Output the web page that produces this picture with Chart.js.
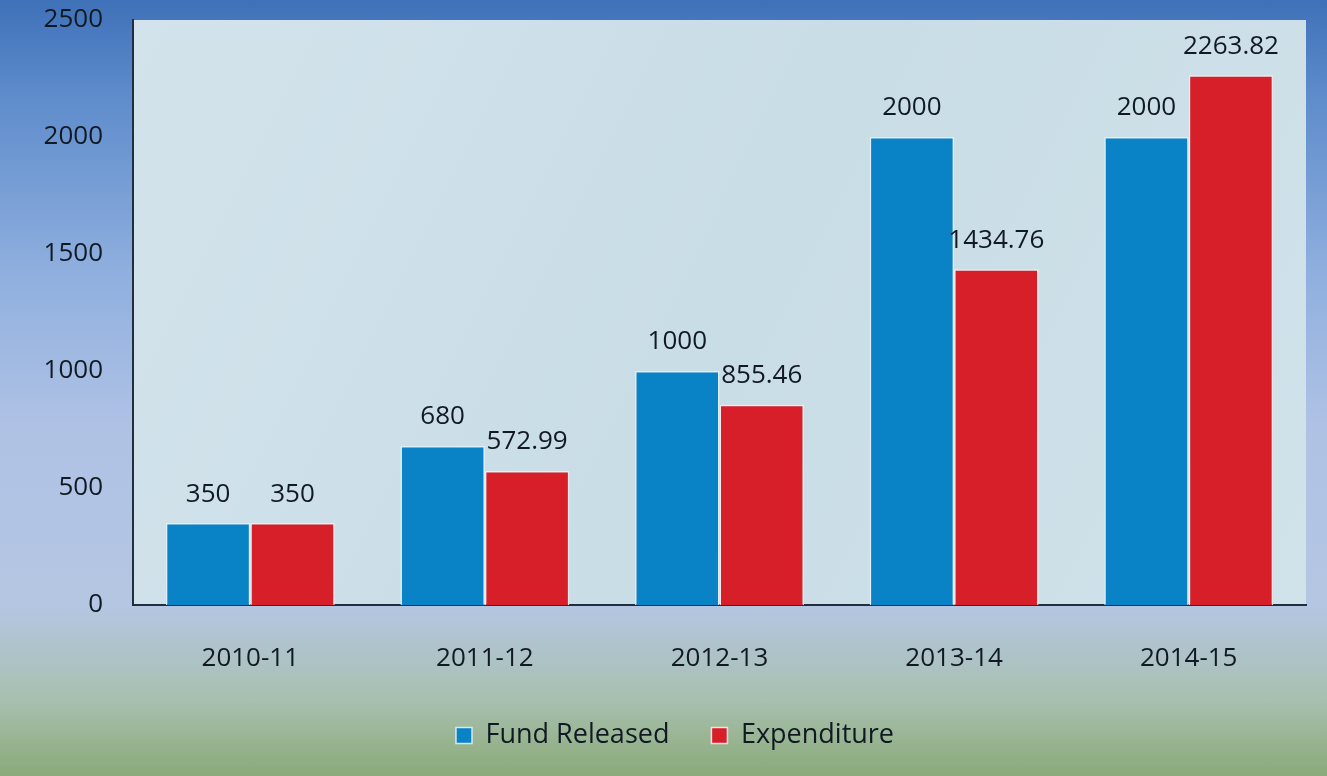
<!DOCTYPE html>
<html>
<head>
<meta charset="utf-8">
<script src="https://cdn.jsdelivr.net/npm/chart.js@4/dist/chart.umd.min.js"></script>
<style>
  html, body { margin: 0; padding: 0; }
  body {
    width: 1327px; height: 776px; overflow: hidden;
    background: linear-gradient(to bottom, #3f71b8 0%, #5d8bcb 12%, #8fafde 35%, #afc2e5 55%, #b5c6e2 78%, #a8c0b0 90%, #8aaa78 100%);
  }
  #wrap { position: relative; width: 1327px; height: 776px; }
</style>
</head>
<body>
<div id="wrap"><canvas id="fundChart" width="1327" height="776"></canvas></div>
<script>
const years = ['2010-11', '2011-12', '2012-13', '2013-14', '2014-15'];
const fundReleased = [350, 680, 1000, 2000, 2000];
const expenditure = [350, 572.99, 855.46, 1434.76, 2263.82];
const yTicks = [0, 500, 1000, 1500, 2000, 2500];

const FONT = "'Open Sans', sans-serif";
const TEXT = '#111a24';

// light textured-looking panel behind the bars
const plotPanel = {
    id: 'plotPanel',
    beforeDraw(chart) {
        const { ctx, chartArea: a } = chart;
        ctx.save();
        const g = ctx.createLinearGradient(a.left, a.top, a.right, a.bottom);
        g.addColorStop(0, '#d3e3ec');
        g.addColorStop(0.5, '#c9dde6');
        g.addColorStop(1, '#d0e2ea');
        ctx.fillStyle = g;
        ctx.fillRect(a.left, a.top, a.right - a.left, a.bottom - a.top);
        ctx.restore();
    }
};

// value labels above bars
const barValues = {
    id: 'barValues',
    afterDatasetsDraw(chart) {
        const { ctx } = chart;
        ctx.save();
        ctx.font = '26px ' + FONT;
        ctx.fillStyle = TEXT;
        ctx.textAlign = 'center';
        ctx.textBaseline = 'bottom';
        chart.data.datasets.forEach((ds, i) => {
            chart.getDatasetMeta(i).data.forEach((bar, j) => {
                ctx.fillText(String(ds.data[j]), bar.x, bar.y - 16);
            });
        });
        ctx.restore();
    }
};

new Chart(document.getElementById('fundChart').getContext('2d'), {
    type: 'bar',
    data: {
        labels: years,
        datasets: [{
            label: 'Fund Released',
            data: fundReleased,
            backgroundColor: '#0a82c6',
            borderColor: 'rgba(225,240,250,0.9)',
            borderWidth: 1.5
        }, {
            label: 'Expenditure',
            data: expenditure,
            backgroundColor: '#d71f29',
            borderColor: 'rgba(250,235,235,0.9)',
            borderWidth: 1.5
        }]
    },
    options: {
        responsive: false,
        animation: false,
        layout: { padding: { top: 20, right: 21, bottom: 17, left: 44 } },
        datasets: { bar: { categoryPercentage: 0.72, barPercentage: 1.0 } },
        scales: {
            x: {
                grid: { display: false, drawTicks: false },
                border: { display: true, color: '#1f2f3f', width: 2 },
                ticks: { color: TEXT, font: { family: FONT, size: 26 }, padding: 38 },
                afterFit(s) { s.height = 75; s.paddingLeft = 0; s.paddingRight = 0; }
            },
            y: {
                min: 0,
                max: 2500,
                afterBuildTicks(s) { s.ticks = yTicks.map(v => ({ value: v })); },
                grid: { display: false, drawTicks: false },
                border: { display: true, color: '#1f2f3f', width: 2 },
                ticks: {
                    color: TEXT,
                    font: { family: FONT, size: 26 },
                    padding: 30,
                    callback: v => String(v)
                },
                afterFit(s) { s.width = 89; s.paddingTop = 0; s.paddingBottom = 0; }
            }
        },
        plugins: {
            legend: {
                display: true,
                position: 'bottom',
                labels: {
                    color: TEXT,
                    font: { family: FONT, size: 27 },
                    boxWidth: 16,
                    boxHeight: 16,
                    padding: 42
                }
            },
            tooltip: { enabled: false }
        }
    },
    plugins: [plotPanel, barValues]
});
</script>
</body>
</html>
